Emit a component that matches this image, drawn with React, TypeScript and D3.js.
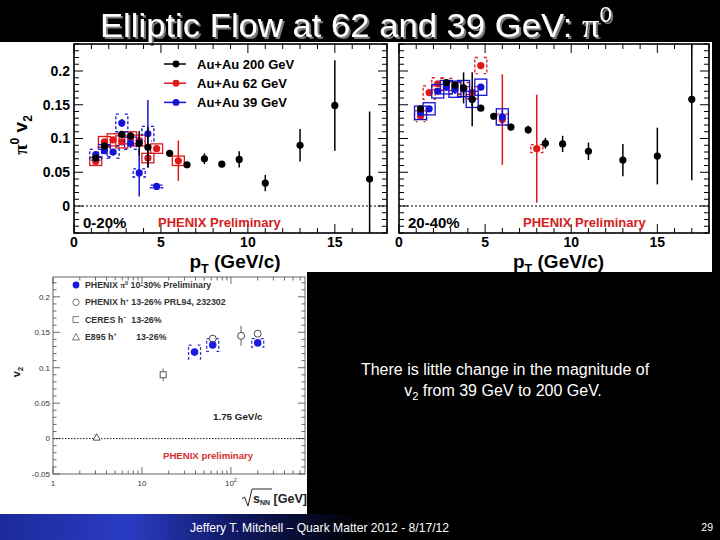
import React from "react";
import * as d3 from "d3";

// ---- 0-20% centrality ----
const c020_200_pt = [1.25, 1.75, 2.75, 3.25, 3.75, 4.25, 5.5, 6.5, 7.5, 8.5, 9.5, 11, 13, 15, 17];
const c020_200_v2 = [0.071, 0.089, 0.106, 0.104, 0.093, 0.087, 0.078, 0.061, 0.07, 0.062, 0.069, 0.034, 0.09, 0.149, 0.04];
const c020_200_err = [0.003, 0.003, 0.004, 0.005, 0.018, 0.03, 0.003, 0.004, 0.008, 0.002, 0.012, 0.012, 0.024, 0.067, 0.1];

const c020_62_pt = [1.25, 1.75, 2.25, 2.75, 3.25, 3.75, 4.25, 4.75, 6];
const c020_62_v2 = [0.066, 0.095, 0.098, 0.095, 0.101, 0.097, 0.071, 0.085, 0.067];
const c020_62_err = [0.003, 0.003, 0.004, 0.005, 0.006, 0.008, 0.01, 0.003, 0.03];
const c020_62_sys = [0.006, 0.008, 0.009, 0.009, 0.009, 0.008, 0.007, 0.007, 0.007];

const c020_39_pt = [1.25, 1.75, 2.25, 2.75, 3.25, 3.75, 4.25, 4.75];
const c020_39_v2 = [0.076, 0.082, 0.08, 0.123, 0.093, 0.049, 0.107, 0.029];
const c020_39_err = [0.004, 0.004, 0.005, 0.006, 0.007, 0.035, 0.05, 0.002];
const c020_39_sys = [0.008, 0.009, 0.009, 0.013, 0.009, 0.006, 0.011, 0.002];

// ---- 20-40% centrality ----
const c2040_200_pt = [1.25, 2.75, 3.25, 3.75, 4.25, 4.75, 5.5, 6.5, 7.5, 8.5, 9.5, 11, 13, 15, 17];
const c2040_200_v2 = [0.144, 0.183, 0.179, 0.175, 0.158, 0.145, 0.133, 0.117, 0.113, 0.093, 0.092, 0.081, 0.068, 0.074, 0.158];
const c2040_200_err = [0.003, 0.004, 0.005, 0.023, 0.04, 0.003, 0.003, 0.005, 0.006, 0.008, 0.012, 0.013, 0.024, 0.042, 0.12];

const c2040_62_pt = [1.25, 1.75, 2.25, 2.75, 3.25, 3.75, 4.25, 4.75, 6, 8];
const c2040_62_v2 = [0.133, 0.168, 0.181, 0.18, 0.175, 0.174, 0.168, 0.208, 0.128, 0.085];
const c2040_62_err = [0.003, 0.004, 0.004, 0.005, 0.006, 0.007, 0.009, 0.004, 0.067, 0.08];
const c2040_62_sys = [0.008, 0.01, 0.009, 0.009, 0.009, 0.009, 0.009, 0.012, 0.008, 0.006];

const c2040_39_pt = [1.25, 1.75, 2.25, 2.75, 3.25, 3.75, 4.25, 4.75, 6];
const c2040_39_v2 = [0.138, 0.144, 0.17, 0.176, 0.173, 0.174, 0.158, 0.176, 0.132];
const c2040_39_err = [0.003, 0.004, 0.005, 0.006, 0.007, 0.008, 0.01, 0.004, 0.01];
const c2040_39_sys = [0.01, 0.009, 0.01, 0.01, 0.012, 0.012, 0.012, 0.012, 0.012];

const topLegend = ["Au+Au 200 GeV", "Au+Au 62 GeV", "Au+Au 39 GeV"];

// ---- excitation function (bottom panel) ----
const pi0_sqrtS = [39, 62.4, 200];
const pi0_v2 = [0.122, 0.132, 0.135];
const pi0_sys = [0.01, 0.009, 0.006];
const hch_sqrtS = [62.4, 130, 200];
const hch_v2 = [0.141, 0.145, 0.148];
const hch_err = [0.003, 0.014, 0.003];
const ceres_sqrtS = [17.3];
const ceres_v2 = [0.09];
const ceres_err = [0.009];
const e895_sqrtS = [3.1];
const e895_v2 = [0.002];

const COL = { k: "#000", r: "#e01818", b: "#1414d4" };
const SANS = "'Liberation Sans', Arial, Helvetica, sans-serif";
const NARROW = "'Liberation Sans Narrow', 'Liberation Sans', Arial, sans-serif";
const SERIF = "'Liberation Serif', 'DejaVu Serif', serif";

const ptDomain = [0, 18];
const v2Domain = [-0.04, 0.24];

const mk = (pt, v2, err, sys, color, sysStyle) => ({ pt, v2, err, sys, color, sysStyle });

const panel020 = [
  mk(c020_62_pt, c020_62_v2, c020_62_err, c020_62_sys, COL.r, "box"),
  mk(c020_39_pt, c020_39_v2, c020_39_err, c020_39_sys, COL.b, "bracket"),
  mk(c020_200_pt, c020_200_v2, c020_200_err, null, COL.k, null),
];
const panel2040 = [
  mk(c2040_62_pt, c2040_62_v2, c2040_62_err, c2040_62_sys, COL.r, "bracket"),
  mk(c2040_39_pt, c2040_39_v2, c2040_39_err, c2040_39_sys, COL.b, "box"),
  mk(c2040_200_pt, c2040_200_v2, c2040_200_err, null, COL.k, null),
];

const near = (arr, t) => arr.some((m) => Math.abs(m - t) < 1e-9);
const fmt = (t) => String(+t.toFixed(3));

function SysMark({ cx, y1, y2, color, style }) {
  const w = 6;
  if (style === "box")
    return <rect x={cx - w} y={y2} width={2 * w} height={y1 - y2} fill="none" stroke={color} strokeWidth={1.3} />;
  const c = 3;
  const d = `M${cx - w + c},${y2}H${cx - w}V${y1}H${cx - w + c}M${cx + w - c},${y2}H${cx + w}V${y1}H${cx + w - c}`;
  return <path d={d} fill="none" stroke={color} strokeWidth={1.3} strokeDasharray="3,2" />;
}

function TopPanel({ id, left, right, top, bottom, series, tag, showY, legend }) {
  const x = d3.scaleLinear().domain(ptDomain).range([left, right]);
  const y = d3.scaleLinear().domain(v2Domain).range([bottom, top]);
  const xMaj = x.ticks(4);
  const xMin = x.ticks(18);
  const yMaj = y.ticks(5);
  const yMin = y.ticks(28);
  return (
    <g>
      <defs>
        <clipPath id={id}>
          <rect x={left} y={top} width={right - left} height={bottom - top} />
        </clipPath>
      </defs>
      {xMin.map((t) => {
        const l = near(xMaj, t) ? 9 : 5;
        return (
          <g key={"x" + t} stroke="#000" strokeWidth={1}>
            <line x1={x(t)} x2={x(t)} y1={bottom} y2={bottom - l} />
            <line x1={x(t)} x2={x(t)} y1={top} y2={top + l} />
          </g>
        );
      })}
      {yMin.map((t) => {
        const l = near(yMaj, t) ? 9 : 5;
        return (
          <g key={"y" + t} stroke="#000" strokeWidth={1}>
            <line x1={left} x2={left + l} y1={y(t)} y2={y(t)} />
            <line x1={right} x2={right - l} y1={y(t)} y2={y(t)} />
          </g>
        );
      })}
      <line x1={left} x2={right} y1={y(0)} y2={y(0)} stroke="#000" strokeWidth={1} strokeDasharray="2,2" />
      <rect x={left} y={top} width={right - left} height={bottom - top} fill="none" stroke="#000" strokeWidth={1.6} />
      {xMaj.map((t) => (
        <text key={"xl" + t} x={x(t)} y={247} textAnchor="middle" fontFamily={SANS} fontWeight="bold" fontSize={14}>
          {fmt(t)}
        </text>
      ))}
      {showY &&
        yMaj.map((t) => (
          <text key={"yl" + t} x={left - 4} y={y(t)} dy="0.35em" textAnchor="end" fontFamily={SANS} fontWeight="bold" fontSize={14}>
            {fmt(t)}
          </text>
        ))}
      <g clipPath={`url(#${id})`}>
        {series.map((s, si) => (
          <g key={si}>
            {s.sys &&
              s.pt.map((p, i) => (
                <SysMark key={"s" + i} cx={x(p)} y1={y(s.v2[i] - s.sys[i])} y2={y(s.v2[i] + s.sys[i])} color={s.color} style={s.sysStyle} />
              ))}
            {s.pt.map((p, i) => (
              <line key={"e" + i} x1={x(p)} x2={x(p)} y1={y(s.v2[i] - s.err[i])} y2={y(s.v2[i] + s.err[i])} stroke={s.color} strokeWidth={1.5} />
            ))}
            {s.pt.map((p, i) => (
              <circle key={"m" + i} cx={x(p)} cy={y(s.v2[i])} r={3.6} fill={s.color} />
            ))}
          </g>
        ))}
      </g>
      <text x={left + 9} y={228} fontFamily={SANS} fontWeight="bold" fontSize={15}>
        {tag}
      </text>
      <text x={left + (tag.length > 5 ? 124 : 84)} y={227} fontFamily={SANS} fontWeight="bold" fontSize={13} fill="#d42020">
        PHENIX Preliminary
      </text>
      <text x={(left + right) / 2 - 41} y={268} fontFamily={SANS} fontWeight="bold" fontSize={19}>
        p<tspan fontSize={12.5} dy={5}>T</tspan>
        <tspan dy={-5}> (GeV/c)</tspan>
      </text>
      {legend &&
        legend.map((lab, i) => {
          const ly = 64 + i * 19.2;
          const c = [COL.k, COL.r, COL.b][i];
          return (
            <g key={lab}>
              <line x1={164} x2={186} y1={ly} y2={ly} stroke={c} strokeWidth={1.5} />
              <circle cx={176} cy={ly} r={3.4} fill={c} />
              <text x={197} y={ly} dy="0.36em" fontFamily={SANS} fontWeight="bold" fontSize={13}>
                {lab}
              </text>
            </g>
          );
        })}
    </g>
  );
}

function BottomPanel() {
  const left = 53, right = 305, top = 277, bottom = 474;
  const x = d3.scaleLog().domain([1, 680]).range([left, right]);
  const y = d3.scaleLinear().domain([-0.05, 0.228]).range([bottom, top]);
  const xAll = x.ticks();
  const xMaj = xAll.filter((t) => Math.abs(Math.log10(t) - Math.round(Math.log10(t))) < 1e-9);
  const yMaj = y.ticks(5);
  const yMin = y.ticks(27);
  const lab = "#333";
  const legendRows = [
    ["PHENIX ", "π", "0", " 10-30% Preliminary"],
    ["PHENIX h", "", "+", " 13-26% PRL94, 232302"],
    ["CERES h", "", "−", "  13-26%"],
    ["E895 h", "", "+", "        13-26%"],
  ];
  return (
    <g>
      <defs>
        <clipPath id="botclip">
          <rect x={left} y={top} width={right - left} height={bottom - top} />
        </clipPath>
      </defs>
      {xAll.map((t) => {
        const l = near(xMaj, t) ? 7 : 3.5;
        return (
          <g key={"x" + t} stroke="#444" strokeWidth={0.8}>
            <line x1={x(t)} x2={x(t)} y1={bottom} y2={bottom - l} />
            <line x1={x(t)} x2={x(t)} y1={top} y2={top + l} />
          </g>
        );
      })}
      {yMin.map((t) => {
        const l = near(yMaj, t) ? 7 : 3.5;
        return (
          <g key={"y" + t} stroke="#444" strokeWidth={0.8}>
            <line x1={left} x2={left + l} y1={y(t)} y2={y(t)} />
            <line x1={right} x2={right - l} y1={y(t)} y2={y(t)} />
          </g>
        );
      })}
      <line x1={left} x2={right} y1={y(0)} y2={y(0)} stroke="#222" strokeWidth={1} strokeDasharray="1.5,1.5" />
      <rect x={left} y={top} width={right - left} height={bottom - top} fill="none" stroke="#555" strokeWidth={0.9} />
      {yMaj.map((t) => (
        <text key={"yl" + t} x={left - 3} y={y(t)} dy="0.35em" textAnchor="end" fontFamily={SANS} fontSize={8} fill={lab}>
          {fmt(t)}
        </text>
      ))}
      {xMaj.map((t) => {
        const e = Math.round(Math.log10(t));
        return (
          <text key={"xl" + t} x={x(t)} y={486} textAnchor="middle" fontFamily={SANS} fontSize={8} fill={lab}>
            {e < 2 ? String(t) : "10"}
            {e >= 2 && <tspan fontSize={5.5} dy={-4}>{e}</tspan>}
          </text>
        );
      })}
      <text transform="translate(20,372) rotate(-90)" textAnchor="middle" fontFamily={SANS} fontWeight="bold" fontSize={11} fill="#222">
        v<tspan fontSize={8} dy={3}>2</tspan>
      </text>
      <g fontFamily={SANS} fill="#222">
        <path d="M242,499 l2.5,-2 l3.5,9 l4,-17 h20" fill="none" stroke="#222" strokeWidth={1} />
        <text x={253} y={503} fontSize={12.5} fontWeight="bold">
          s<tspan fontSize={7} dy={2}>NN</tspan>
          <tspan dy={-2}> [GeV]</tspan>
        </text>
      </g>
      <g clipPath="url(#botclip)">
        {pi0_sqrtS.map((s, i) => (
          <SysMark key={"ps" + i} cx={x(s)} y1={y(pi0_v2[i] - pi0_sys[i])} y2={y(pi0_v2[i] + pi0_sys[i])} color="#3838c0" style="bracket" />
        ))}
        {hch_sqrtS.map((s, i) => (
          <g key={"h" + i}>
            <line x1={x(s)} x2={x(s)} y1={y(hch_v2[i] - hch_err[i])} y2={y(hch_v2[i] + hch_err[i])} stroke="#333" strokeWidth={0.8} />
            <circle cx={x(s)} cy={y(hch_v2[i])} r={3.5} fill="#fff" stroke="#333" strokeWidth={0.9} />
          </g>
        ))}
        {pi0_sqrtS.map((s, i) => (
          <circle key={"p" + i} cx={x(s)} cy={y(pi0_v2[i])} r={3.8} fill="#1a1ae0" />
        ))}
        {ceres_sqrtS.map((s, i) => (
          <g key={"c" + i}>
            <line x1={x(s)} x2={x(s)} y1={y(ceres_v2[i] - ceres_err[i])} y2={y(ceres_v2[i] + ceres_err[i])} stroke="#444" strokeWidth={0.8} />
            <rect x={x(s) - 3} y={y(ceres_v2[i]) - 3} width={6} height={6} fill="#fff" stroke="#444" strokeWidth={0.9} />
          </g>
        ))}
        {e895_sqrtS.map((s, i) => (
          <path key={"e" + i} d={`M${x(s) - 3.5},${y(e895_v2[i]) + 3}h7l-3.5,-6.5z`} fill="#fff" stroke="#444" strokeWidth={0.9} />
        ))}
      </g>
      {legendRows.map((r, i) => {
        const ly = 285 + i * 17.3;
        return (
          <g key={i}>
            {i === 0 && <circle cx={76} cy={ly} r={3.4} fill="#1a1ae0" />}
            {i === 1 && <circle cx={76} cy={ly} r={3.2} fill="#fff" stroke="#555" strokeWidth={0.8} />}
            {i === 2 && <path d={`M79,${ly - 3}h-6v6h6`} fill="none" stroke="#555" strokeWidth={0.8} />}
            {i === 3 && <path d={`M72.5,${ly + 3}h7l-3.5,-6.5z`} fill="none" stroke="#555" strokeWidth={0.8} />}
            <text x={85} y={ly} dy="0.35em" fontFamily={SANS} fontWeight="bold" fontSize={8.8} fill="#333" style={{ whiteSpace: "pre" }}>
              {r[0]}
              {r[1] && <tspan fontFamily={SERIF}>{r[1]}</tspan>}
              <tspan fontSize={5.5} dy={-3.5}>{r[2]}</tspan>
              <tspan dy={3.5}>{r[3]}</tspan>
            </text>
          </g>
        );
      })}
      <text x={213} y={420} fontFamily={SANS} fontWeight="bold" fontSize={9.8} fill="#222">
        1.75 GeV/c
      </text>
      <text x={163} y={459} fontFamily={SANS} fontWeight="bold" fontSize={9.6} fill="#d43030">
        PHENIX preliminary
      </text>
    </g>
  );
}

export default function App() {
  return (
    <svg width={720} height={540} style={{ position: "absolute", left: 0, top: 0, display: "block" }}>
      <defs>
        <linearGradient id="footer" x1="0" x2="1" y1="0" y2="0">
          <stop offset="0" stopColor="#1b2a9a" />
          <stop offset="0.18" stopColor="#2a3cc4" />
          <stop offset="0.32" stopColor="#101a66" />
          <stop offset="0.5" stopColor="#000" />
          <stop offset="1" stopColor="#000" />
        </linearGradient>
        <filter id="shadow" x="-5%" y="-20%" width="110%" height="150%">
          <feDropShadow dx={2} dy={2} stdDeviation={0} floodColor="#7a7a7a" floodOpacity={1} />
        </filter>
      </defs>
      <rect width={720} height={540} fill="#000" />
      <rect x={0} y={514} width={720} height={26} fill="url(#footer)" />
      <rect x={0} y={42} width={712} height={230} fill="#fff" />
      <rect x={0} y={270} width={307} height={244} fill="#fff" />

      <text x={100} y={37} fill="#fff" fontFamily={NARROW} fontSize={34} textLength={512} lengthAdjust="spacingAndGlyphs" filter="url(#shadow)">
        Elliptic Flow at 62 and 39 GeV: <tspan fontFamily={SERIF}>π</tspan>
        <tspan fontSize={22} dy={-15}>0</tspan>
      </text>

      <TopPanel id="p020" left={74} right={387} top={44} bottom={233} series={panel020} tag="0-20%" showY legend={topLegend} />
      <TopPanel id="p2040" left={399} right={709} top={44} bottom={233} series={panel2040} tag="20-40%" showY={false} legend={null} />

      <text transform="translate(27,135) rotate(-90)" textAnchor="middle" fontFamily={SANS} fontWeight="bold" fontSize={19}>
        <tspan fontFamily={SERIF}>π</tspan>
        <tspan fontSize={12} dy={-8}>0</tspan>
        <tspan dy={8}> v</tspan>
        <tspan fontSize={12} dy={5}>2</tspan>
      </text>

      <BottomPanel />

      <g fontFamily={SANS} fontSize={16} fill="#fff" textAnchor="middle">
        <text x={505} y={375}>There is little change in the magnitude of</text>
        <text x={503} y={396}>
          v<tspan fontSize={11} dy={4}>2</tspan>
          <tspan dy={-4}> from 39 GeV to 200 GeV.</tspan>
        </text>
      </g>

      <text x={190} y={532} fontFamily={NARROW} fontSize={12.5} fill="#fff" textLength={259} lengthAdjust="spacingAndGlyphs">
        Jeffery T. Mitchell – Quark Matter 2012 - 8/17/12
      </text>
      <text x={713} y={531} textAnchor="end" fontFamily={NARROW} fontSize={10.5} fill="#fff">
        29
      </text>
    </svg>
  );
}
